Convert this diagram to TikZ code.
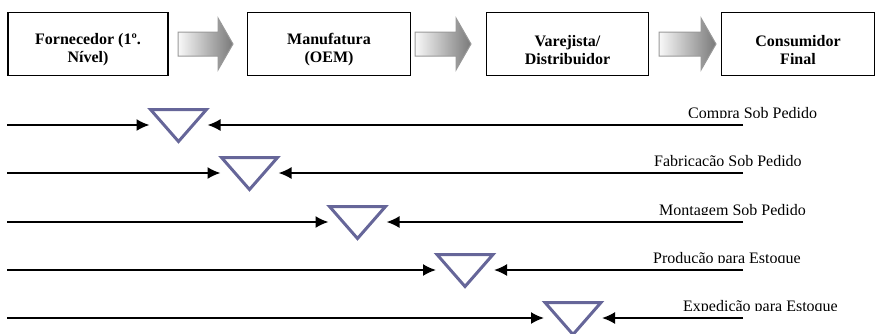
\documentclass[tikz,border=0pt]{standalone}
\usepackage{fontspec}
\setmainfont{Liberation Serif}
\usetikzlibrary{arrows.meta,calc}
\definecolor{triblue}{RGB}{102,102,153}
\tikzset{
  stagebox/.style={draw=black,line width=1.8pt,minimum height=63pt,inner sep=0pt},
  stagetext/.style={inner sep=0pt,align=center,font=\bfseries\fontsize{16}{18}\selectfont},
  flowline/.style={line width=1.8pt,-{Latex[length=13pt,width=12pt]}},
  buffer/.style={draw=triblue,line width=3pt,line join=miter},
  fatarrow/.style={draw=gray!80,line width=1pt,left color=gray!5,right color=gray!95!black},
  rowlabel/.style={anchor=base west,inner sep=0pt,font=\fontsize{16}{16}\selectfont}
}
\begin{document}
\begin{tikzpicture}[x=1pt,y=-1pt]
\useasboundingbox (0,0) rectangle (876,333);
% stage boxes
\node[stagebox,minimum width=160pt] (B1) at (88,44) {};
\node[stagebox,minimum width=163pt] (B2) at (329,44) {};
\node[stagebox,minimum width=162pt] (B3) at (567.5,44) {};
\node[stagebox,minimum width=153pt] (B4) at (798,44) {};
\node[stagetext] (T1) at ($(B1.center)+(0,6)$) {Fornecedor (1º.\\Nível)};
\node[stagetext] (T2) at ($(B2.center)+(0,6)$) {Manufatura\\(OEM)};
\node[stagetext] (T3) at ($(B3.center)+(0,6)$) {Varejista/\\Distribuidor};
\node[stagetext] (T4) at ($(B4.center)+(0,6)$) {Consumidor\\Final};
% fat gradient arrows
\foreach \a/\b in {178/233,415/471,659/716}{
  \path[fatarrow] (\a,32) -- (\b-15,32) -- (\b-15,18) -- (\b,44) -- (\b-15,70) -- (\b-15,56) -- (\a,56) -- cycle;
}
% rows: y, triangle centre x, label x, label text
\foreach \y/\cx/\lx/\txt [count=\i] in {
  125/178.5/688/{Compra Sob Pedido},
  173/249.5/654/{Fabricação Sob Pedido},
  222/357.5/659/{Montagem Sob Pedido},
  270/465/653/{Produção para Estoque},
  318/573/683/{Expedição para Estoque}}{
  \coordinate (S\i) at (7,\y);
  \coordinate (E\i) at (743,\y);
  \coordinate (TL\i) at (\cx-29,\y);
  \coordinate (TR\i) at (\cx+29,\y);
  \draw[flowline] (S\i) -- (TL\i);
  \draw[flowline] (E\i) -- (TR\i);
  \draw[buffer] (\cx-28,\y-15.5) -- (\cx+28,\y-15.5) -- (\cx,\y+16.5) -- cycle;
  \begin{scope}
    \clip (0,\y-40) rectangle (876,\y-7.5);
    \node[rowlabel] (L\i) at (\lx,\y-7) {\txt};
  \end{scope}
}
\end{tikzpicture}
\end{document}
